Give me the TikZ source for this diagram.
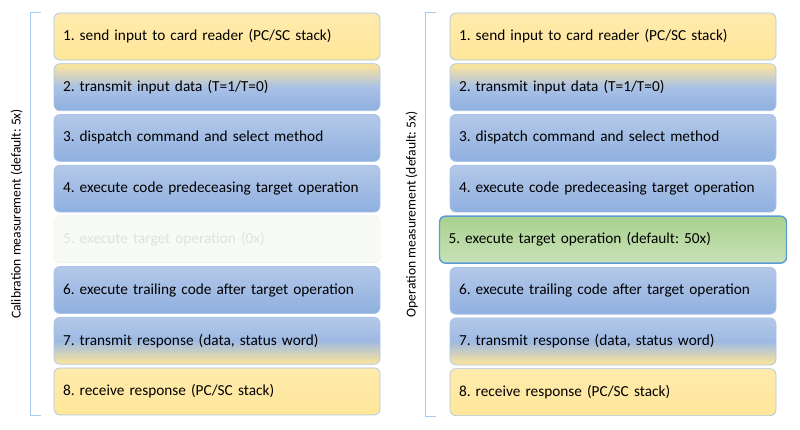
\documentclass[tikz,border=0pt]{standalone}
\usepackage{fontspec}
\setmainfont{Carlito}
\usetikzlibrary{positioning,calc}
\definecolor{yellowfill}{HTML}{FFE699}
\definecolor{bluetop}{HTML}{B4C8E8}
\definecolor{bluebot}{HTML}{8FB0E0}
\definecolor{boxline}{HTML}{A9C4E6}
\definecolor{greentop}{HTML}{A9D18E}
\definecolor{greenbot}{HTML}{C8E2B8}
\definecolor{greenline}{HTML}{5B9BD5}
\definecolor{ghostfill}{HTML}{F8FAF5}
\definecolor{ghostline}{HTML}{F0F3EE}
\definecolor{ghosttext}{HTML}{E0E3DC}
\definecolor{bracketline}{HTML}{A8CBEA}
\frenchspacing
\tikzset{node distance=3pt,       % gap between two stages
         every node/.style={font=\fontsize{15.3}{18}\selectfont},
         stage/.style={           % common look of each stage
           draw=boxline,
           line width=0.7pt,
           rounded corners=6pt,
           minimum height=47pt,
           text width=308pt,
           inner xsep=9pt,
           align=left},
         yellowstage/.style={stage, top color=yellowfill!80!white, bottom color=yellowfill},
         bluestage/.style={stage, top color=bluetop, bottom color=bluebot},
         downstage/.style={stage, top color=yellowfill, bottom color=bluebot, middle color=bluetop!70!bluebot},
         upstage/.style={stage, top color=bluetop, bottom color=yellowfill, middle color=bluetop!40!bluebot},
         ghoststage/.style={stage, draw=ghostline, fill=ghostfill, text=ghosttext},
         targetstage/.style={stage, draw=greenline, line width=1.4pt, top color=greentop, bottom color=greenbot,
           text width=329pt},
         bracket/.style={draw=bracketline, line width=0.7pt},
         sidelabel/.style={rotate=90, font=\fontsize{13.6}{16}\selectfont}}

\begin{document}
\begin{tikzpicture}[x=1pt,y=1pt]
\useasboundingbox (0,0) rectangle (800,-429);

% calibration measurement
\node[yellowstage] (c1) at (217,-36.5) {1. send input to card reader (PC/SC stack)};
\node[downstage, below=of c1] (c2) {2. transmit input data (T=1/T=0)};
\node[bluestage, below=of c2] (c3) {3. dispatch command and select method};
\node[bluestage, below=of c3] (c4) {4. execute code predeceasing target operation};
\node[ghoststage, below=of c4] (c5) {5. execute target operation (0x)};
\node[bluestage, below=of c5] (c6) {6. execute trailing code after target operation};
\node[upstage, below=of c6] (c7) {7. transmit response (data, status word)};
\node[yellowstage, below=of c7] (c8) {8. receive response (PC/SC stack)};

% operation measurement
\node[yellowstage] (o1) at (613,-36.5) {1. send input to card reader (PC/SC stack)};
\node[downstage, below=of o1] (o2) {2. transmit input data (T=1/T=0)};
\node[bluestage, below=of o2] (o3) {3. dispatch command and select method};
\node[bluestage, below=of o3] (o4) {4. execute code predeceasing target operation};
\node[targetstage, below=of o4] (o5) {5. execute target operation (default: 50x)};
\node[bluestage, below=of o5] (o6) {6. execute trailing code after target operation};
\node[upstage, below=of o6] (o7) {7. transmit response (data, status word)};
\node[yellowstage, below=of o7] (o8) {8. receive response (PC/SC stack)};

% brackets and labels
\draw[bracket] ($(c1.north west)+(-13,0)$) -- ++(-10,0) |- ($(c8.south west)+(-13,0)$);
\draw[bracket] ($(o1.north west)+(-14,0)$) -- ++(-10,0) |- ($(o8.south west)+(-14,0)$);
\node[sidelabel] (calib) at ($(c1.north west)!0.5!(c8.south west)+(-37,0)$) {Calibration measurement (default: 5x)};
\node[sidelabel] (oper) at ($(o1.north west)!0.5!(o8.south west)+(-38,0)$) {Operation measurement (default: 5x)};

\end{tikzpicture}
\end{document}
